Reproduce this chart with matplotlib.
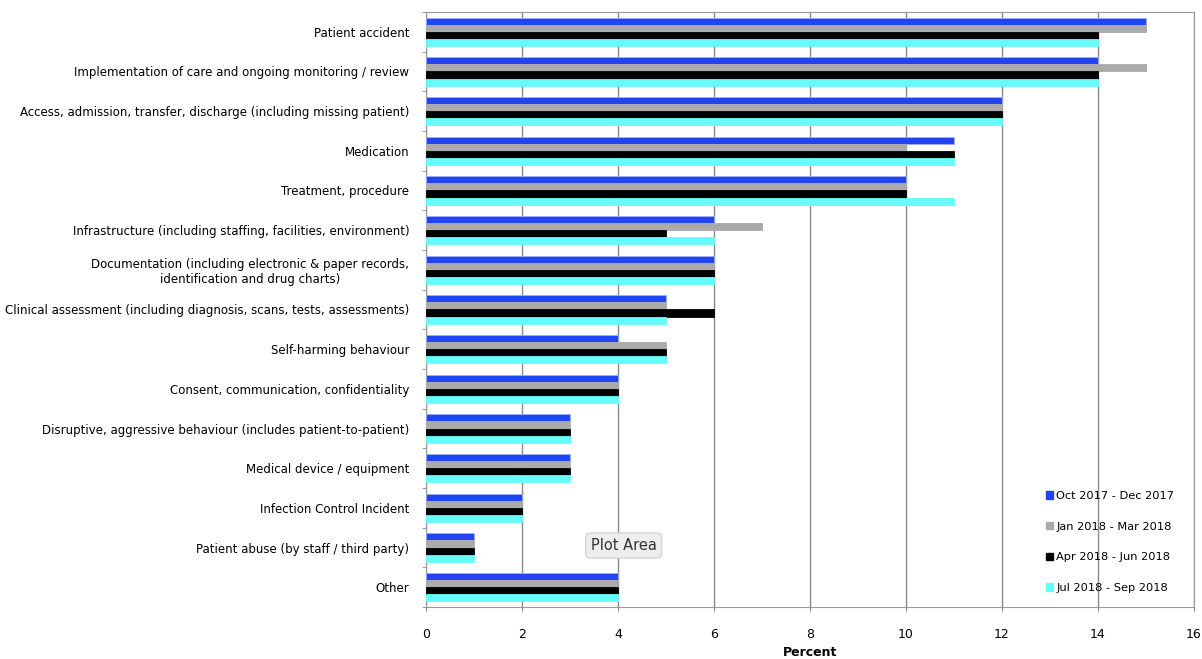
import numpy as np
import matplotlib.pyplot as plt
from matplotlib.patches import Patch

categories = [
    "Patient accident",
    "Implementation of care and ongoing monitoring / review",
    "Access, admission, transfer, discharge (including missing patient)",
    "Medication",
    "Treatment, procedure",
    "Infrastructure (including staffing, facilities, environment)",
    "Documentation (including electronic & paper records,\nidentification and drug charts)",
    "Clinical assessment (including diagnosis, scans, tests, assessments)",
    "Self-harming behaviour",
    "Consent, communication, confidentiality",
    "Disruptive, aggressive behaviour (includes patient-to-patient)",
    "Medical device / equipment",
    "Infection Control Incident",
    "Patient abuse (by staff / third party)",
    "Other",
]

periods = ["Oct 2017 - Dec 2017", "Jan 2018 - Mar 2018",
           "Apr 2018 - Jun 2018", "Jul 2018 - Sep 2018"]

oct_dec_2017 = [15, 14, 12, 11, 10, 6, 6, 5, 4, 4, 3, 3, 2, 1, 4]
jan_mar_2018 = [15, 15, 12, 10, 10, 7, 6, 5, 5, 4, 3, 3, 2, 1, 4]
apr_jun_2018 = [14, 14, 12, 11, 10, 5, 6, 6, 5, 4, 3, 3, 2, 1, 4]
jul_sep_2018 = [14, 14, 12, 11, 11, 6, 6, 5, 5, 4, 3, 3, 2, 1, 4]

series = [oct_dec_2017, jan_mar_2018, apr_jun_2018, jul_sep_2018]
colors = ["#2244F2", "#AAAAAA", "#000000", "#66FCFC"]

fig = plt.figure(figsize=(12.02, 6.59), dpi=100)
ax = fig.add_axes([0.3544, 0.0789, 0.6389, 0.9029])

y = np.arange(len(categories))
h = 0.18
for i, (vals, c) in enumerate(zip(series, colors)):
    ax.barh(y - 1.5 * h + i * h, vals, height=h, color=c,
            edgecolor="#9ab0ff" if i == 0 else c, linewidth=0.6, zorder=3)

ax.set_ylim(len(categories) - 0.5, -0.5)
ax.set_xlim(0, 16)
ax.set_xticks(range(0, 17, 2))
ax.set_yticks(y)
ax.set_yticklabels(categories, fontsize=8.5, multialignment="center")
ax.tick_params(axis="y", length=0, pad=12)
ax.set_yticks(np.arange(-0.5, len(categories), 1), minor=True)
ax.tick_params(axis="y", which="minor", length=3, color="#888888")
ax.tick_params(axis="x", labelsize=9, length=3, pad=12, color="#888888")
ax.grid(axis="x", color="#888888", linewidth=1, zorder=0)
for s in ax.spines.values():
    s.set_color("#999999")
ax.set_xlabel("Percent", fontsize=9, fontweight="bold", labelpad=4)

handles = [Patch(facecolor=c, edgecolor=c) for c in colors]
ax.legend(handles, periods, loc="lower right", bbox_to_anchor=(0.985, 0.01),
          frameon=False, fontsize=8.2, handlelength=0.6, handleheight=0.6,
          handletextpad=0.3, labelspacing=1.82, borderaxespad=0.3)

ax.text(4.12, 12.95, "Plot Area", fontsize=10.5, color="#333333",
        ha="center", va="center", zorder=5,
        bbox=dict(boxstyle="round,pad=0.35", fc="#eeeeee", ec="#cccccc", lw=0.8))

fig.savefig("out.png", dpi=100)
